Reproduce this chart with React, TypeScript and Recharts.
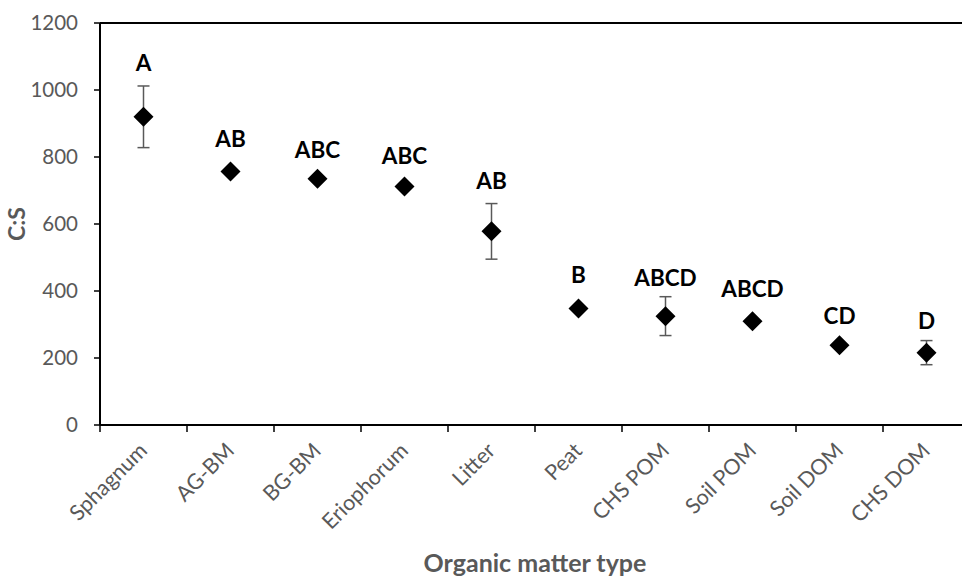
import {
  ComposedChart, Scatter, XAxis, YAxis, ErrorBar, ReferenceLine, Label,
} from "recharts";

const categories = [
  "Sphagnum", "AG-BM", "BG-BM", "Eriophorum", "Litter",
  "Peat", "CHS POM", "Soil POM", "Soil DOM", "CHS DOM",
];
const meanCS = [920, 757, 735, 712, 578, 348, 325, 310, 238, 216];
const errCS = [92, 0, 0, 0, 83, 0, 58, 0, 0, 36];
const letters = ["A", "AB", "ABC", "ABC", "AB", "B", "ABCD", "ABCD", "CD", "D"];
// where each letter sits, in C:S units (baseline)
const letterAt = [1057, 831, 798, 780, 703, 423, 414, 381, 301, 286];
const yTicks = [0, 200, 400, 600, 800, 1000, 1200];

const data = categories.map((name, i) => ({
  name,
  x: i + 0.5,
  cs: meanCS[i],
  err: errCS[i],
  letterY: letterAt[i],
  letter: letters[i],
}));

const boundaries = categories.map((_, i) => i).concat(categories.length);

const W = 980;
const H = 577;
const LEFT = 100;
const RIGHT = 10;
const BAND = (W - LEFT - RIGHT) / categories.length;
const FONT = "Lato, 'Open Sans', sans-serif";
const GREY = "#595959";

function XTick(props: any) {
  const { x, y, payload } = props;
  const i = payload.value;
  if (i >= categories.length) return null;
  const cx = x + BAND / 2 + 5;
  const cy = y + 18;
  return (
    <text
      x={cx}
      y={cy}
      transform={`rotate(-45 ${cx} ${cy})`}
      textAnchor="end"
      fill={GREY}
      fontSize={21.5}
      fontFamily={FONT}
    >
      {categories[i]}
    </text>
  );
}

function Diamond(props: any) {
  const { cx, cy } = props;
  const r = 10;
  return (
    <polygon
      points={`${cx},${cy - r} ${cx + r},${cy} ${cx},${cy + r} ${cx - r},${cy}`}
      fill="#000"
    />
  );
}

function Letter(props: any) {
  const { cx, cy, payload } = props;
  return (
    <text
      x={cx}
      y={cy}
      textAnchor="middle"
      fontSize={22.5}
      fontWeight="bold"
      fontFamily={FONT}
      fill="#000"
    >
      {payload.letter}
    </text>
  );
}

export default function App() {
  return (
    <div
      style={{
        position: "absolute", left: 0, top: 0, width: 962, height: 577,
        overflow: "hidden", background: "#fff",
      }}
    >
      <ComposedChart
        width={W}
        height={H}
        data={data}
        margin={{ top: 23, right: RIGHT, bottom: 0, left: 0 }}
      >
        <XAxis
          dataKey="x"
          type="number"
          domain={[0, categories.length]}
          ticks={boundaries}
          interval={0}
          tick={<XTick />}
          tickSize={7}
          tickLine={{ stroke: "#000", strokeWidth: 1.5 }}
          axisLine={{ stroke: "#000", strokeWidth: 2 }}
          height={152}
        >
          <Label
            value="Organic matter type"
            position="insideBottom"
            offset={5}
            fill={GREY}
            fontSize={25}
            fontWeight="bold"
            fontFamily={FONT}
          />
        </XAxis>
        <YAxis
          type="number"
          domain={[0, 1200]}
          ticks={yTicks}
          interval={0}
          width={LEFT}
          tickSize={6}
          tickMargin={16}
          tick={{ fill: GREY, fontSize: 20.5, fontFamily: FONT }}
          tickLine={{ stroke: "#000", strokeWidth: 1.5 }}
          axisLine={{ stroke: "#000", strokeWidth: 2 }}
        >
          <Label
            value="C:S"
            angle={-90}
            position="center"
            dx={-33}
            fill={GREY}
            fontSize={23}
            fontWeight="bold"
            fontFamily={FONT}
          />
        </YAxis>
        <ReferenceLine y={1200} stroke="#000" strokeWidth={2} />
        <Scatter dataKey="cs" shape={<Diamond />} isAnimationActive={false}>
          <ErrorBar
            dataKey="err"
            direction="y"
            width={6}
            stroke={GREY}
            strokeWidth={1.5}
            isAnimationActive={false}
          />
        </Scatter>
        <Scatter dataKey="letterY" shape={<Letter />} isAnimationActive={false} />
      </ComposedChart>
    </div>
  );
}
